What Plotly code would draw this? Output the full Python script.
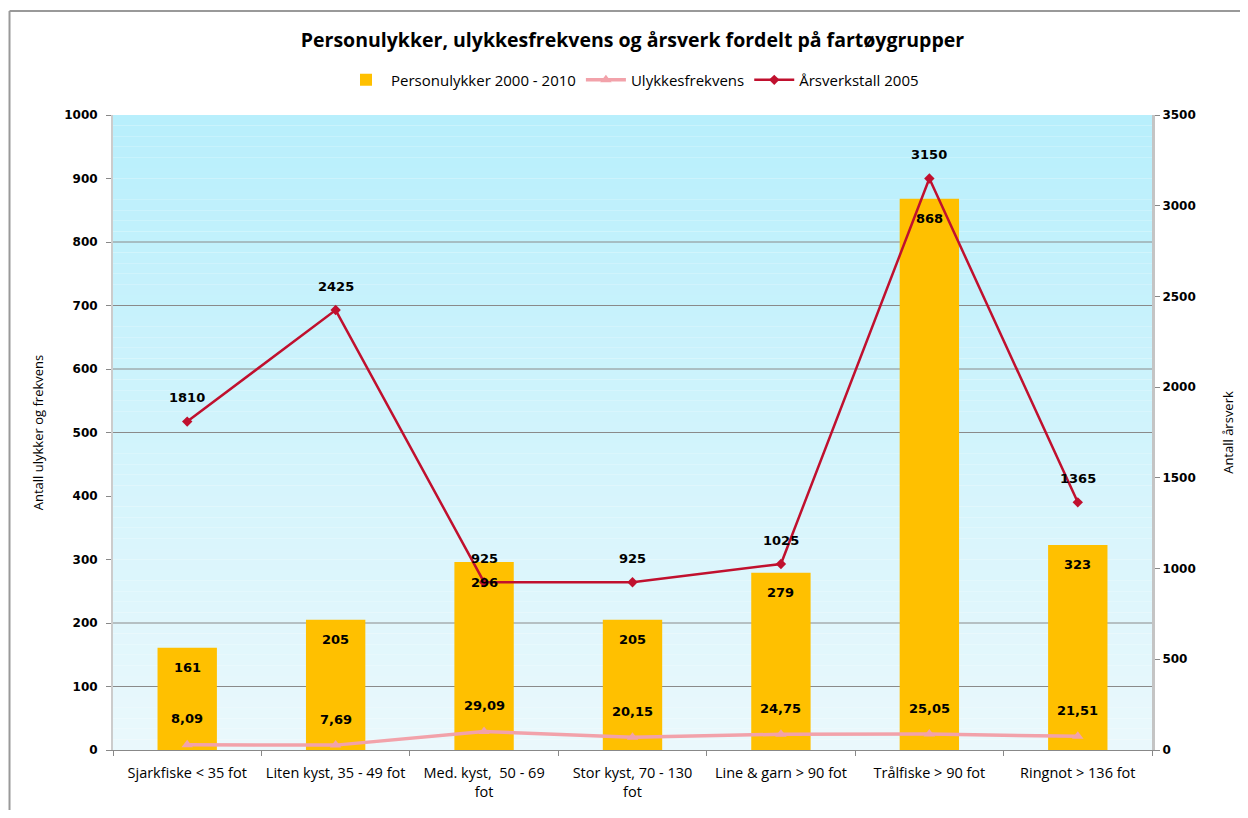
import plotly.graph_objects as go
from plotly.subplots import make_subplots

categories = ["Sjarkfiske < 35 fot", "Liten kyst, 35 - 49 fot", "Med. kyst,  50 - 69<br>fot",
              "Stor kyst, 70 - 130<br>fot", "Line & garn > 90 fot", "Trålfiske > 90 fot", "Ringnot > 136 fot"]
personulykker = [161, 205, 296, 205, 279, 868, 323]
frekvens = [8.09, 7.69, 29.09, 20.15, 24.75, 25.05, 21.51]
frekvens_labels = ["8,09", "7,69", "29,09", "20,15", "24,75", "25,05", "21,51"]
arsverk = [1810, 2425, 925, 925, 1025, 3150, 1365]
left_ticks = list(range(0, 1001, 100))
right_ticks = list(range(0, 3501, 500))
visible_gridlines = [100, 200, 500, 600, 700, 800]

fig = make_subplots(specs=[[{"secondary_y": True}]])

fig.add_trace(go.Bar(x=categories, y=personulykker, name="Personulykker 2000 - 2010",
                     marker=dict(color="#FFC000", line=dict(width=0)), width=0.4),
              secondary_y=False)
fig.add_trace(go.Scatter(x=categories, y=frekvens, name="Ulykkesfrekvens", mode="lines+markers",
                         line=dict(color="#F2A2AA", width=3.5),
                         marker=dict(symbol="triangle-up", size=10, color="#F2A2AA")),
              secondary_y=False)
fig.add_trace(go.Scatter(x=categories, y=arsverk, name="Årsverkstall 2005", mode="lines+markers",
                         line=dict(color="#C0102E", width=2.5),
                         marker=dict(symbol="diamond", size=8, color="#C0102E")),
              secondary_y=True)

labelfont = dict(family="DejaVu Sans", size=13, color="black", weight="bold")
# data labels
for c, v in zip(categories, personulykker):
    fig.add_annotation(x=c, y=v, text=str(v), showarrow=False, yshift=-20, xref="x", yref="y",
                       font=labelfont)
for c, v, t in zip(categories, frekvens, frekvens_labels):
    fig.add_annotation(x=c, y=v, text=t, showarrow=False, yshift=26, xref="x", yref="y",
                       font=labelfont)
for c, v in zip(categories, arsverk):
    fig.add_annotation(x=c, y=v, text=str(v), showarrow=False, yshift=24, xref="x", yref="y2",
                       font=labelfont)

# gradient plot background
n = 60
top = (184, 239, 252)
bot = (234, 248, 252)
for i in range(n):
    f = i / (n - 1)
    col = tuple(round(top[k] + (bot[k] - top[k]) * f) for k in range(3))
    fig.add_shape(type="rect", xref="x domain", yref="y domain", x0=0, x1=1,
                  y0=1 - (i + 1) / n, y1=1 - i / n, line=dict(width=0),
                  fillcolor="rgb(%d,%d,%d)" % col, layer="below")

# gridlines (only those visible in the original)
for g in visible_gridlines:
    fig.add_shape(type="line", xref="x domain", yref="y", x0=0, x1=1, y0=g, y1=g,
                  line=dict(color="#8a8a8a", width=1), layer="below")

# outer border (top and left visible)
fig.add_shape(type="line", xref="paper", yref="paper", x0=-0.0996, x1=1.2, y0=1.1638, y1=1.1638,
              line=dict(color="#999999", width=2))
fig.add_shape(type="line", xref="paper", yref="paper", x0=-0.0996, x1=-0.0996, y0=-0.2, y1=1.1638,
              line=dict(color="#999999", width=2))

tickfont = dict(family="DejaVu Sans", size=12, color="black", weight="bold")
fig.update_layout(
    width=1232, height=802,
    margin=dict(l=105, r=88, t=107, b=60, autoexpand=False),
    paper_bgcolor="white", plot_bgcolor="rgba(0,0,0,0)",
    title=dict(text="<b>Personulykker, ulykkesfrekvens og årsverk fordelt på fartøygrupper</b>",
               x=0.5, xref="paper", xanchor="center", y=0.96, yanchor="middle",
               font=dict(family="Open Sans", size=19.5, color="black")),
    legend=dict(orientation="h", x=0.5, xanchor="center", y=1.055, yanchor="middle",
                font=dict(family="Open Sans", size=15, color="black"), bgcolor="rgba(0,0,0,0)",
                traceorder="normal", itemwidth=40),
    showlegend=True,
    bargap=0.6,
)
fig.update_xaxes(tickfont=dict(family="Open Sans", size=14.5, color="black"), automargin=False,
                 domain=[0, 1], ticklabelstandoff=10, tickangle=0,
                 showline=True, linecolor="#888888", ticks="outside", tickson="boundaries",
                 tickcolor="#888888", ticklen=5, showgrid=False)
fig.update_yaxes(range=[0, 1000], tickvals=left_ticks, tickfont=tickfont, showgrid=False,
                 showline=True, linecolor="#cccccc", linewidth=2, ticks="outside",
                 tickcolor="#888888", ticklen=5, zeroline=False, automargin=False,
                 ticklabelstandoff=6,
                 title=dict(text="Antall ulykker og frekvens",
                            font=dict(family="Open Sans", size=13, color="black"), standoff=18),
                 secondary_y=False)
fig.update_yaxes(range=[0, 3500], tickvals=right_ticks, tickfont=tickfont, showgrid=False,
                 showline=True, linecolor="#c4c4c4", linewidth=3, ticks="outside",
                 tickcolor="#888888", ticklen=5, zeroline=False, automargin=False,
                 title=dict(text="Antall årsverk",
                            font=dict(family="Open Sans", size=13, color="black"), standoff=30),
                 secondary_y=True)

fig.write_html("out.html")
